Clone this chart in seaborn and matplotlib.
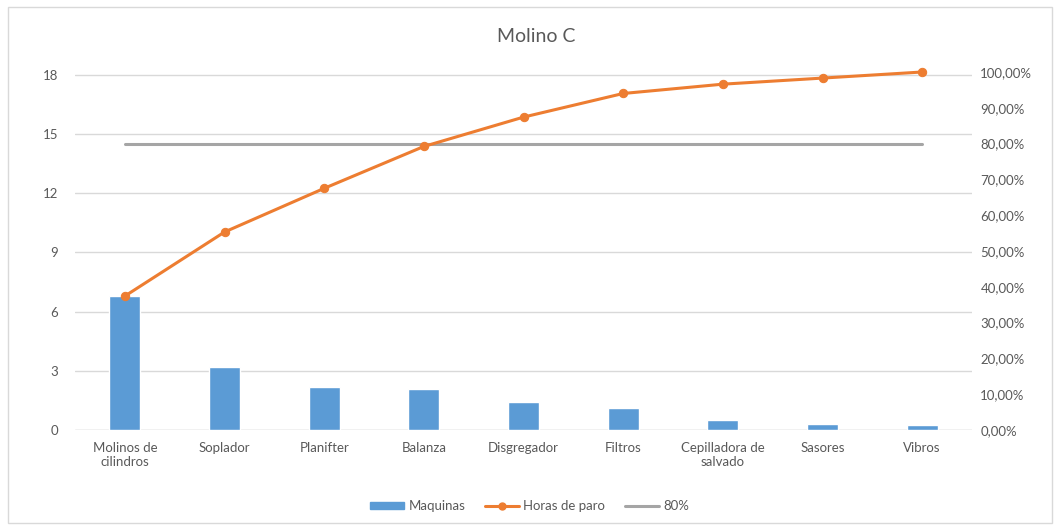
import matplotlib
matplotlib.use("Agg")
import matplotlib.pyplot as plt
from matplotlib.patches import Rectangle
from matplotlib.lines import Line2D
from matplotlib.patches import Patch
from matplotlib.ticker import FixedLocator, FuncFormatter
import numpy as np
import pandas as pd
import seaborn as sns

# Machines in Pareto order
categories = ["Molinos de\ncilindros", "Soplador", "Planifter", "Balanza", "Disgregador",
              "Filtros", "Cepilladora de\nsalvado", "Sasores", "Vibros"]
maquinas = [6.8, 3.2, 2.2, 2.1, 1.4, 1.1, 0.5, 0.3, 0.25]
# Cumulative share of downtime hours (fraction)
horas_paro = [0.374, 0.553, 0.675, 0.792, 0.874, 0.940, 0.966, 0.983, 1.000]
umbral = [0.80] * len(categories)

left_ticks = [0, 3, 6, 9, 12, 15, 18]
right_ticks = [0.0, 0.1, 0.2, 0.3, 0.4, 0.5, 0.6, 0.7, 0.8, 0.9, 1.0]

BLUE = "#5b9bd5"
ORANGE = "#ed7d31"
GRAY = "#a5a5a5"
TEXT = "#595959"
GRID = "#d9d9d9"

sns.set_theme(style="white")
plt.rcParams["font.family"] = ["Lato", "DejaVu Sans"]

W, H = 1059, 527
fig = plt.figure(figsize=(W / 100, H / 100), dpi=100)
fig.patch.set_facecolor("white")

ax = fig.add_axes([75 / W, 1 - 430 / H, (972 - 75) / W, (430 - 72) / H])
df = pd.DataFrame({"cat": categories, "maq": maquinas})
sns.barplot(data=df, x="cat", y="maq", color=BLUE, saturation=1, width=0.31, ax=ax)
ax.set_xlim(-0.5, len(categories) - 0.5)
ax.set_ylim(0, 18 * 358 / 355)
ax.yaxis.set_major_locator(FixedLocator(left_ticks))
ax.grid(axis="y", color=GRID, linewidth=1)
ax.set_axisbelow(True)
ax.set_xlabel("")
ax.set_ylabel("")
for s in ax.spines.values():
    s.set_visible(False)
ax.tick_params(axis="y", length=0, pad=12, labelsize=9.5, labelcolor=TEXT)
ax.tick_params(axis="x", length=0, pad=9, labelsize=9.5, labelcolor=TEXT)
ax.axhline(0, color=GRID, linewidth=1, zorder=0)

ax2 = ax.twinx()
xpos = np.arange(len(categories))
sns.lineplot(x=xpos, y=umbral, color=GRAY, linewidth=2.2, ax=ax2)
sns.lineplot(x=xpos, y=horas_paro, color=ORANGE, linewidth=2.2, marker="o",
             markersize=6, markeredgecolor=ORANGE, ax=ax2)
for ln in ax2.get_lines():
    ln.set_clip_on(False)
ax2.set_ylim(0, 1.0)
ax2.yaxis.set_major_locator(FixedLocator(right_ticks))
ax2.yaxis.set_major_formatter(FuncFormatter(lambda v, p: f"{v * 100:.2f}%".replace(".", ",")))
ax2.tick_params(axis="y", length=0, pad=6, labelsize=9.5, labelcolor=TEXT)
ax2.grid(False)
for s in ax2.spines.values():
    s.set_visible(False)
ax2.set_ylabel("")

fig.text(536 / W, 1 - 37 / H, "Molino C", ha="center", va="center", fontsize=14, color=TEXT)

handles = [
    Patch(facecolor=BLUE, edgecolor=BLUE),
    Line2D([], [], color=ORANGE, linewidth=2.2, marker="o", markersize=5),
    Line2D([], [], color=GRAY, linewidth=2.2),
]
fig.legend(handles, ["Maquinas", "Horas de paro", "80%"], loc="center",
           bbox_to_anchor=(0.5, 1 - 506 / H), ncol=3, frameon=False,
           fontsize=9.5, labelcolor=TEXT, handlelength=2.6, handleheight=0.5,
           handletextpad=0.3, columnspacing=1.5)

fig.patches.append(Rectangle((8 / W, 1 - 523 / H), (1052 - 8) / W, (523 - 7) / H,
                             transform=fig.transFigure, fill=False,
                             edgecolor=GRID, linewidth=1))

fig.savefig("out.png", dpi=100)
